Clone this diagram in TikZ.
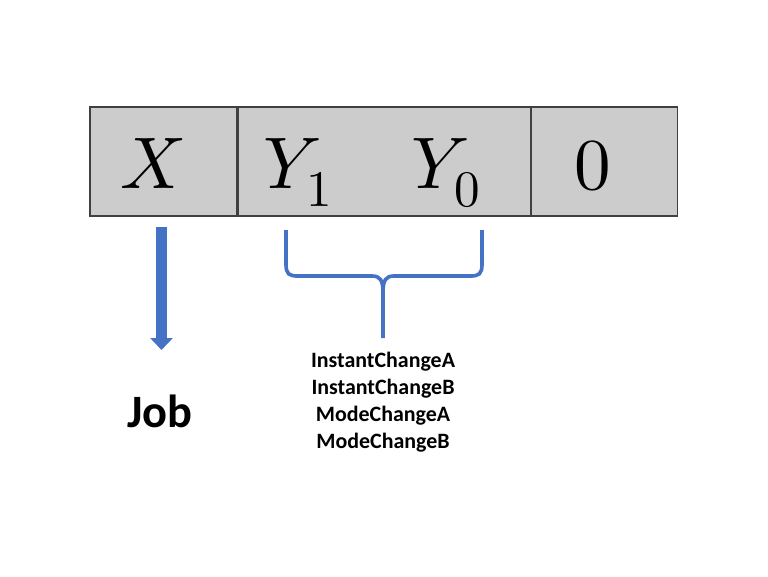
\documentclass[tikz,border=0pt]{standalone}
\usepackage{fontspec}
\usepackage{unicode-math}
\setmathfont{Latin Modern Math}
\newfontfamily\calibri{Carlito}
\usetikzlibrary{positioning,calc,arrows.meta}
\definecolor{officeblue}{HTML}{4472C4}
\definecolor{cellgrey}{HTML}{CCCCCC}
\definecolor{cellline}{HTML}{404040}
\tikzset{
    cell/.style = {draw=cellline, fill=cellgrey, rectangle, line width=0.8pt,
        minimum height=2.725cm, inner sep=0pt},
    mathlbl/.style = {anchor=base, inner sep=0pt, font=\fontsize{52}{58}\selectfont},
    bigarrow/.style = {draw=officeblue, line width=0.275cm,
        -{Triangle[width=0.55cm,length=0.3cm]}},
    bracestyle/.style = {draw=officeblue, line width=2.6pt},
    jobtext/.style = {anchor=base, inner sep=0pt, font=\calibri\bfseries\fontsize{33}{38}\selectfont},
    listtext/.style = {inner sep=0pt, align=center, font=\calibri\bfseries\fontsize{15.6}{19.2}\selectfont}
}

\begin{document}
\begin{tikzpicture}[node distance=0cm]
        \useasboundingbox (0,0) rectangle (19.2,-14.4);
        % the three fields
        \node [cell, minimum width=3.675cm] (cellx) at (4.0875,-4.0375) {};
        \node [cell, minimum width=7.3cm, right=0cm of cellx] (celly) {};
        \node [cell, minimum width=3.65cm, right=0cm of celly] (cellz) {};
        \node [mathlbl] (lblx) at (3.825,-4.7) {$X$};
        \node [mathlbl] (lbly1) at (7.45,-4.7) {$Y_1$};
        \node [mathlbl] (lbly0) at (11.15,-4.7) {$Y_0$};
        \node [mathlbl] (lblz) at (14.825,-4.725) {$0$};
        % job arrow
        \coordinate (arrtop) at ([xshift=-0.05cm,yshift=-0.25cm]cellx.south);
        \coordinate (arrend) at (arrtop |- 0,-8.75);
        \draw [bigarrow] (arrtop) -- (arrend);
        \node [jobtext] (job) at (4.0,-10.675) {Job};
        % brace under Y1 Y0
        \coordinate (bracel) at (7.15,-5.75);
        \coordinate (bracer) at (12.05,-5.75);
        \coordinate (bracemid) at (9.575,-7.3);
        \coordinate (bracetip) at (9.575,-8.45);
        \draw [bracestyle] (bracel) -- (7.15,-6.6) .. controls (7.15,-6.85) and (7.22,-6.9) .. (7.45,-6.9)
            -- (9.3,-6.9) .. controls (9.5,-6.9) and (9.575,-7.0) .. (bracemid) -- (bracetip);
        \draw [bracestyle] (bracer) -- (12.05,-6.6) .. controls (12.05,-6.85) and (11.98,-6.9) .. (11.75,-6.9)
            -- (9.85,-6.9) .. controls (9.65,-6.9) and (9.575,-7.0) .. (bracemid);
        \node [listtext, below=0.35cm of bracetip] (modes) {InstantChangeA\\InstantChangeB\\ModeChangeA\\ModeChangeB};
\end{tikzpicture}
\end{document}
